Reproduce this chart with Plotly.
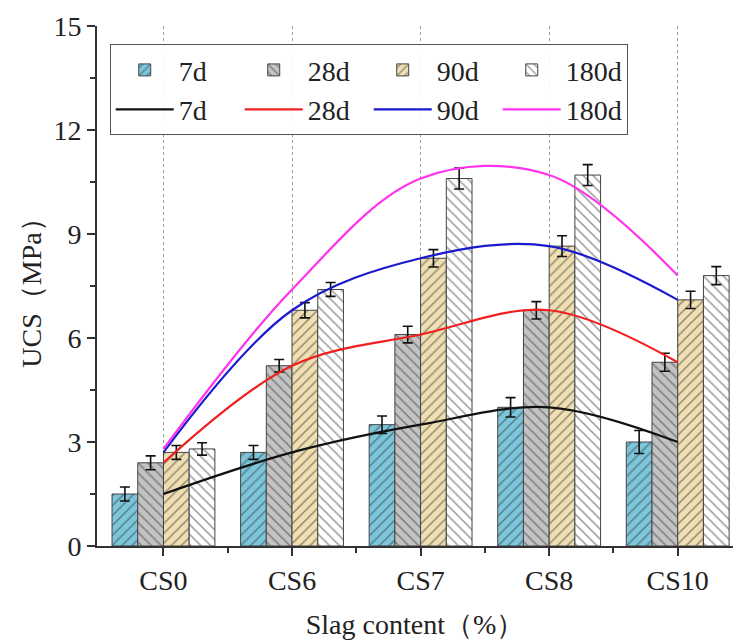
import plotly.graph_objects as go

# ---- data ----
categories = ["CS0", "CS6", "CS7", "CS8", "CS10"]
ages = ["7d", "28d", "90d", "180d"]
ucs_7d = [1.5, 2.7, 3.5, 4.0, 3.0]
ucs_28d = [2.4, 5.2, 6.1, 6.8, 5.3]
ucs_90d = [2.7, 6.8, 8.3, 8.65, 7.1]
ucs_180d = [2.8, 7.4, 10.6, 10.7, 7.8]
err_7d = [0.2, 0.2, 0.25, 0.28, 0.33]
err_28d = [0.2, 0.18, 0.24, 0.25, 0.26]
err_90d = [0.2, 0.22, 0.25, 0.3, 0.25]
err_180d = [0.18, 0.2, 0.3, 0.3, 0.26]
y_ticks = [0, 3, 6, 9, 12, 15]

values = [ucs_7d, ucs_28d, ucs_90d, ucs_180d]
errors = [err_7d, err_28d, err_90d, err_180d]

# ---- styles ----
bar_fill = ["#7cc6dc", "#c3c3c3", "#efdfb2", "#ffffff"]
bar_hatch = ["/", "\\", "/", "\\"]
line_colors = ["#111111", "#f02020", "#1a1acc", "#ff33ee"]
FONT = "Liberation Serif"

xpos = list(range(len(categories)))
minor_pos = [i + 0.5 for i in xpos[:-1]]
xr = [-0.517, 4.43]

fig = go.Figure()
for name, v, e, fc, h in zip(ages, values, errors, bar_fill, bar_hatch):
    fig.add_trace(go.Bar(
        x=xpos, y=v, name=name,
        marker=dict(color=fc, line=dict(color="#444444", width=1),
                    pattern=dict(shape=h, fgcolor="#333333", bgcolor=fc,
                                 size=7, solidity=0.22)),
        error_y=dict(type="data", array=e, visible=True, color="#111111",
                     thickness=1.6, width=5),
    ))
for name, v, c in zip(ages, values, line_colors):
    fig.add_trace(go.Scatter(
        x=xpos, y=v, name=name, mode="lines",
        line=dict(color=c, width=2.2, shape="spline", smoothing=1.0),
    ))

fig.update_layout(
    width=733, height=641,
    margin=dict(l=97, r=0, t=26, b=95),
    paper_bgcolor="white", plot_bgcolor="white",
    barmode="group", bargap=0.2, bargroupgap=0,
    font=dict(family=FONT, size=28, color="#222222"),
    showlegend=True,
    legend=dict(
        orientation="h", x=0.02, y=0.965, xanchor="left", yanchor="top",
        bordercolor="#555555", borderwidth=1, bgcolor="rgba(255,255,255,0.9)",
        font=dict(family=FONT, size=28, color="#222222"),
        entrywidth=56, entrywidthmode="pixels", tracegroupgap=0,
        itemwidth=58,
    ),
    xaxis=dict(
        range=xr, tickmode="array", tickvals=xpos, ticktext=categories,
        ticks="outside", ticklen=8, tickwidth=2, tickcolor="#333333",
        showline=True, linecolor="#333333", linewidth=2,
        showgrid=True, gridcolor="#999999", gridwidth=1, griddash="dot",
        zeroline=False,
        minor=dict(tickmode="array", tickvals=minor_pos, ticks="outside",
                   ticklen=5, tickwidth=2, tickcolor="#333333", showgrid=False),
        title=dict(text="Slag content（%）", standoff=20,
                   font=dict(family=FONT, size=28)),
        tickfont=dict(family=FONT, size=28),
    ),
    xaxis2=dict(
        overlaying="x", side="top", anchor="y", range=xr,
        tickmode="array", tickvals=xpos, showticklabels=False,
        ticks="inside", ticklen=8, tickwidth=2, tickcolor="#333333",
        showline=True, linecolor="#333333", linewidth=2,
        showgrid=False, zeroline=False,
        minor=dict(tickmode="array", tickvals=minor_pos, ticks="inside",
                   ticklen=5, tickwidth=2, tickcolor="#333333"),
    ),
    yaxis=dict(
        range=[0, 15], tickmode="array", tickvals=y_ticks,
        ticks="outside", ticklen=8, tickwidth=2, tickcolor="#333333",
        showline=True, linecolor="#333333", linewidth=2,
        showgrid=False, zeroline=False,
        minor=dict(dtick=1.5, tick0=0, ticks="outside", ticklen=5,
                   tickwidth=2, tickcolor="#333333"),
        title=dict(text="UCS（MPa）", standoff=4,
                   font=dict(family=FONT, size=28)),
        tickfont=dict(family=FONT, size=28),
    ),
)

fig.write_html("out.html",
               config={"displayModeBar": False},
               post_script="document.body.style.margin='0px';"
                           "document.body.style.overflow='hidden';")
